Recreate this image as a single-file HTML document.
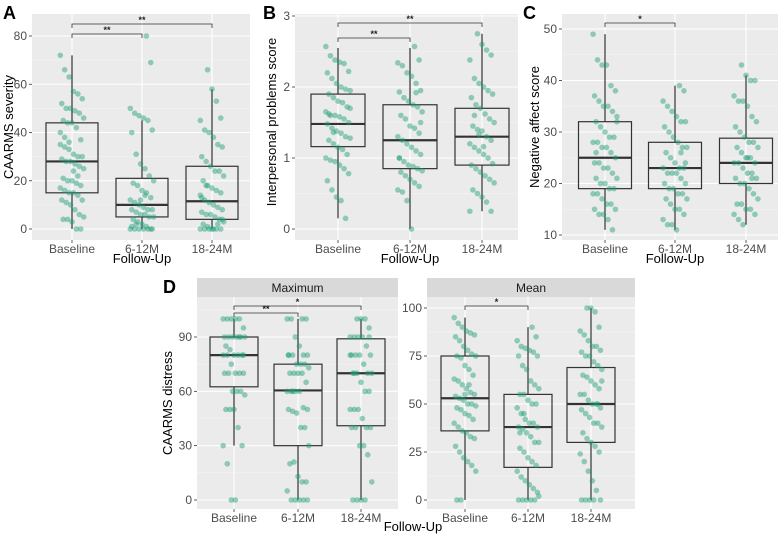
<!DOCTYPE html>
<html><head><meta charset="utf-8"><style>
body{margin:0;background:#fff}
svg{display:block;font-family:"Liberation Sans",sans-serif}
</style></head><body>
<svg id="fig" width="783" height="539" viewBox="0 0 783 539" xmlns="http://www.w3.org/2000/svg"></svg>
<script>
const categories = ["Baseline","6-12M","18-24M"];
// Panel A values
const aBase = [72,66,63,57,56,54,52,50,50,49,48,46,45,44,44,42,37,35,34,33,31,30,30,29,28,28,27,26,25,21,20,20,19,18,17,16,15,15,14,12,12,11,10,8,6,5,4,4,3,0,0,40,38,36,24,22];
const a612 = [80,69,50,48,47,46,45,41,40,31,27,25,22,20,19,18,16,15,13,12,11,10,9,8,8,8,7,6,6,5,5,4,3,2,1,0,0,0,0,0,0,0,1,2,12,14];
const a1824 = [66,58,53,46,45,41,40,38,35,34,30,28,26,24,24,22,20,18,17,16,15,14,12,11,10,9,8,7,6,6,5,4,3,2,1,0,0,0,0,0,0,0,2,4,13,18];
const aBoxes = [[0,15,28,44,72],[0,5,10,21,45],[0,4,11.5,26,58]];
const aTicks = [0,20,40,60,80];
// Panel B
const bBase = [2.57,2.44,2.38,2.35,2.33,2.22,2.2,2.12,2.05,2.0,1.97,1.95,1.9,1.85,1.8,1.78,1.72,1.65,1.6,1.6,1.58,1.55,1.5,1.48,1.42,1.38,1.35,1.3,1.28,1.25,1.2,1.15,1.12,1.05,1.0,0.97,0.95,0.9,0.85,0.78,0.68,0.55,0.45,0.4,0.15,1.7,1.62,1.36];
const b612 = [2.57,2.38,2.34,2.3,2.2,2.15,2.05,1.95,1.93,1.85,1.8,1.75,1.72,1.65,1.6,1.55,1.45,1.42,1.35,1.3,1.25,1.2,1.15,1.1,1.05,1.0,0.95,0.9,0.88,0.85,0.82,0.8,0.75,0.7,0.65,0.6,0.55,0.52,0.4,0.0,1.92,1.5,1.0];
const b1824 = [2.75,2.6,2.52,2.45,2.38,2.12,2.05,2.0,1.95,1.9,1.85,1.75,1.7,1.62,1.55,1.5,1.45,1.4,1.38,1.3,1.25,1.2,1.15,1.1,1.05,1.0,0.92,0.9,0.85,0.8,0.75,0.7,0.65,0.55,0.5,0.45,0.38,0.25,0.25,1.6,1.33,1.16];
const bBoxes = [[0.15,1.16,1.48,1.9,2.55],[0,0.85,1.25,1.75,2.55],[0.25,0.9,1.3,1.7,2.75]];
const bTicks = [0,1,2,3];
// Panel C
const cBase = [49,44,43,43,39,38,37,36,35,35,34,33,32,31,30,29,29,28,28,27,27,26,25,24,24,23,23,22,21,21,20,20,19,19,18,18,17,16,16,15,15,14,14,13,11,32,26];
const c612 = [39,38,36,35,34,33,32,32,31,30,29,28,27,27,26,25,24,23,23,23,22,22,22,21,20,20,19,19,18,18,17,17,16,15,15,14,13,12,12,11,26,24];
const c1824 = [43,41,40,40,37,36,36,35,33,32,31,30,29,28,28,27,27,26,25,25,24,24,24,23,22,22,21,21,20,20,19,18,17,16,16,15,15,14,14,13,12,25,21];
const cBoxes = [[11,19,25,32,49],[11,19,23,28,39],[12,20,24,28.8,41]];
const cTicks = [10,20,30,40,50];
// Panel D max
const dmBase = [100,100,100,100,100,95,90,90,90,90,90,90,85,83,80,80,80,80,80,75,70,70,70,70,70,60,60,60,58,50,50,50,40,30,30,20,0,0,90,80];
const dm612 = [100,100,100,100,90,85,80,80,80,80,75,75,75,73,70,70,70,70,65,60,60,60,60,51,50,50,49,48,40,40,30,20,21,13,10,10,5,0,0,0,0,0,80,60];
const dm1824 = [100,100,100,95,90,90,90,90,85,80,80,80,80,75,70,70,70,70,65,60,60,50,50,50,45,40,40,40,40,30,30,25,10,0,0,0,0,90,80,70];
const dmBoxes = [[30,62.5,80,90,100],[0,30,60.5,75,100],[0,41,70,89,100]];
const dmTicks = [0,30,60,90];
// Panel D mean
const dnBase = [95,92,90,88,87,86,85,83,80,78,76,75,75,74,70,68,65,63,62,60,58,56,55,54,53,52,50,50,49,48,47,45,44,42,40,38,36,35,33,32,28,25,22,20,18,15,0,0,55,60];
const dn612 = [90,85,83,80,79,78,77,75,75,70,68,62,60,58,55,55,52,50,50,48,45,42,40,40,38,38,37,35,33,30,30,27,25,22,20,18,15,12,10,8,6,4,0,0,0,0,0,2,35,45];
const dn1824 = [100,100,98,90,88,86,83,80,80,78,77,75,75,72,70,68,65,64,62,60,58,55,55,52,50,50,48,47,45,43,40,40,38,35,32,30,28,25,24,20,15,10,5,0,0,0,0,0,50,62];
const dnBoxes = [[0,36,53,75,95],[0,17,38,55,90],[0,30,50,69,100]];
const dnTicks = [0,25,50,75,100];

const NS="http://www.w3.org/2000/svg";
const svg=document.getElementById('fig');
function mk(tag,attrs,parent,text){const e=document.createElementNS(NS,tag);for(const k in attrs)e.setAttribute(k,attrs[k]);if(text!==undefined)e.textContent=text;(parent||svg).appendChild(e);return e;}

function panel(p){
  const g=mk('g',{});
  
  
  const y=v=>p.y0+(v-p.v0)*(p.y1-p.y0)/(p.v1-p.v0);
  const bg=mk('rect',{x:p.x0,y:p.top,width:p.x1-p.x0,height:p.bottom-p.top,fill:'#ebebeb'},g);
  
  
  const step=p.ticks[1]-p.ticks[0];
  for(let v=p.ticks[0]-step/2;v<=p.ticks[p.ticks.length-1]+step;v+=step){
    const yy=y(v); if(yy>p.top&&yy<p.bottom) mk('line',{x1:p.x0,x2:p.x1,y1:yy,y2:yy,stroke:'#f5f5f5','stroke-width':0.6},g);
  }
  p.ticks.forEach(v=>{const yy=y(v);
    mk('line',{x1:p.x0,x2:p.x1,y1:yy,y2:yy,stroke:'#fff','stroke-width':1.1},g);
    mk('line',{x1:p.x0-3,x2:p.x0,y1:yy,y2:yy,stroke:'#333','stroke-width':0.8},g);
    const t=mk('text',{x:p.x0-5,y:yy+4,'text-anchor':'end','font-size':12,fill:'#4d4d4d'},g,String(v));
    
    
  });
  p.cx.forEach((cx,i)=>{
    mk('line',{x1:cx,x2:cx,y1:p.top,y2:p.bottom,stroke:'#fff','stroke-width':1.1},g);
    mk('line',{x1:cx,x2:cx,y1:p.bottom,y2:p.bottom+3,stroke:'#333','stroke-width':0.8},g);
    const t=mk('text',{x:cx,y:p.bottom+13,'text-anchor':'middle','font-size':12,fill:'#4d4d4d'},g,categories[i]);
    
    
  });
  p.boxes.forEach((b,i)=>{
    const cx=p.cx[i],w=p.bw;
    const bx=mk('g',{},g);
    
    
    mk('line',{x1:cx,x2:cx,y1:y(b[0]),y2:y(b[1]),stroke:'#333','stroke-width':1.2},bx);
    mk('line',{x1:cx,x2:cx,y1:y(b[3]),y2:y(b[4]),stroke:'#333','stroke-width':1.2},bx);
    mk('rect',{x:cx-w/2,y:y(b[3]),width:w,height:y(b[1])-y(b[3]),fill:'none',stroke:'#333','stroke-width':1.2},bx);
    mk('line',{x1:cx-w/2,x2:cx+w/2,y1:y(b[2]),y2:y(b[2]),stroke:'#333','stroke-width':2.2},bx);
  });
  p.series.forEach((vals,i)=>{
    vals.forEach((v,j)=>{
      const jit=(((j*37+i*11)%17)/16-0.5)*p.bw*0.45;
      const c=mk('circle',{cx:p.cx[i]+jit,cy:y(v),r:2.8,fill:'#1b9e77','fill-opacity':0.45},g);
      
      
    });
  });
  p.brackets.forEach(br=>{
    const a=p.cx[br[0]],b=p.cx[br[1]],yy=br[2];
    const bg2=mk('g',{},g);
    
    
    mk('path',{d:`M${a},${yy+4}V${yy}H${b}V${yy+4}`,fill:'none',stroke:'#333','stroke-width':0.8},bg2);
    mk('text',{x:(a+b)/2,y:yy-1,'text-anchor':'middle','font-size':9,'font-weight':'bold',fill:'#222'},bg2,br[3]);
  });
  return g;
}
function txt(x,y,s,attrs,name){const t=mk('text',Object.assign({x:x,y:y},attrs),svg,s);return t;}

panel({name:'panel-a',x0:32,x1:250,top:14,bottom:240,y0:229,y1:36,v0:0,v1:80,ticks:aTicks,cx:[72,142,212],bw:52,boxes:aBoxes,series:[aBase,a612,a1824],brackets:[[0,1,34,'**'],[0,2,24,'**']]});
panel({name:'panel-b',x0:295,x1:518,top:14,bottom:240,y0:229,y1:16,v0:0,v1:3,ticks:bTicks,cx:[338,410,482],bw:54,boxes:bBoxes,series:[bBase,b612,b1824],brackets:[[0,1,38,'**'],[0,2,23,'**']]});
panel({name:'panel-c',x0:562,x1:778,top:14,bottom:240,y0:235,y1:29,v0:10,v1:50,ticks:cTicks,cx:[605,675,746],bw:53,boxes:cBoxes,series:[cBase,c612,c1824],brackets:[[0,1,23,'*']]});
[[197,398,'Maximum','strip-maximum'],[427,635,'Mean','strip-mean']].forEach(s=>{
  const r=mk('rect',{x:s[0],y:278,width:s[1]-s[0],height:19,fill:'#d9d9d9'});
  
  
  txt((s[0]+s[1])/2,292,s[2],{'text-anchor':'middle','font-size':12,fill:'#1a1a1a'},s[3]+'-label');
});
panel({name:'panel-d-maximum',x0:197,x1:398,top:297,bottom:509,y0:500,y1:337,v0:0,v1:90,ticks:dmTicks,cx:[234,298,361],bw:48,boxes:dmBoxes,series:[dmBase,dm612,dm1824],brackets:[[0,1,313,'**'],[0,2,306,'*']]});
panel({name:'panel-d-mean',x0:427,x1:635,top:297,bottom:509,y0:500,y1:308,v0:0,v1:100,ticks:dnTicks,cx:[465,528,591],bw:48,boxes:dnBoxes,series:[dnBase,dn612,dn1824],brackets:[[0,1,306,'*']]});

const ta={'font-size':13,fill:'#000','text-anchor':'middle'};
txt(142,263,'Follow-Up',ta,'x-axis-title-a');
txt(410,263,'Follow-Up',ta,'x-axis-title-b');
txt(675,263,'Follow-Up',ta,'x-axis-title-c');
txt(413,531,'Follow-Up',ta,'x-axis-title-d');
txt(13,127,'CAARMS severity',Object.assign({transform:'rotate(-90 13 127)'},ta),'y-axis-title-a');
txt(276,122,'Interpersonal problems score',Object.assign({transform:'rotate(-90 276 122)'},ta),'y-axis-title-b');
txt(539,127,'Negative affect score',Object.assign({transform:'rotate(-90 539 127)'},ta),'y-axis-title-c');
txt(172,403,'CAARMS distress',Object.assign({transform:'rotate(-90 172 403)'},ta),'y-axis-title-d');
const la={'font-size':18,'font-weight':'bold',fill:'#000'};
txt(3,19,'A',la,'panel-label-a');
txt(263,19,'B',la,'panel-label-b');
txt(523,19,'C',la,'panel-label-c');
txt(163,293,'D',la,'panel-label-d');
</script>
</body></html>
